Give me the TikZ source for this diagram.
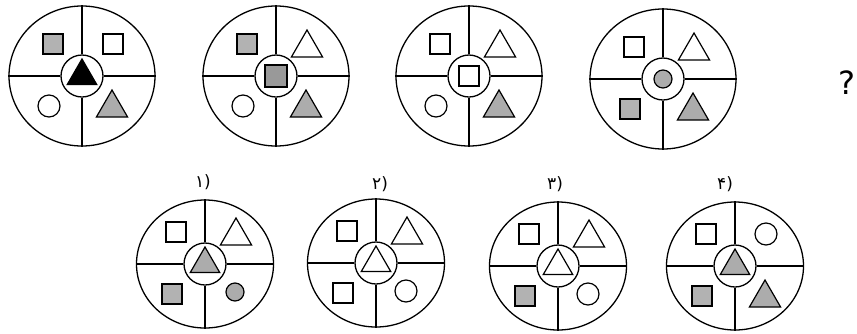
\documentclass[tikz,border=0pt]{standalone}
\usepackage{fontspec}
\setmainfont{DejaVu Sans}
\newfontfamily\arabicfont[Script=Arabic]{DejaVu Sans}
\usetikzlibrary{shapes.geometric}

\tikzset{
  rim/.style={draw, ellipse, line width=1.3pt, inner sep=0pt,
              minimum width=146, minimum height=140},
  hub/.style={draw, circle, line width=1.3pt, inner sep=0pt, minimum size=42},
  spoke/.style={line width=1.3pt},
  piece/.style={draw, line width=1.2pt, inner sep=0pt},
  sq/.style={piece, rectangle, minimum size=20},
  sqfill/.style={sq, fill=gray!60},
  sqdark/.style={sq, minimum size=22, fill=gray!80},
  ring/.style={piece, circle, minimum size=22},
  dot/.style={piece, circle, minimum size=18, fill=gray!65},
  htri/.style={piece, regular polygon, regular polygon sides=3, minimum size=34},
  htrifill/.style={htri, fill=gray!65},
  htriblack/.style={htri, fill=black},
  tri/.style={htri, minimum size=36, yshift=-4pt},
  trifill/.style={tri, fill=gray!65},
  optlabel/.style={font=\fontsize{17}{17}\selectfont},
}

% one wheel: name, centre, top-left, top-right, bottom-left, bottom-right, hub
\newcommand\wheel[7]{%
  \begin{scope}[shift={#2}]
    \node[rim] (#1) at (0,0) {};
    \node[hub] (#1-hub) at (0,0) {};
    \draw[spoke] (#1-hub.north) -- (#1.north);
    \draw[spoke] (#1-hub.south) -- (#1.south);
    \draw[spoke] (#1-hub.west) -- (#1.west);
    \draw[spoke] (#1-hub.east) -- (#1.east);
    \node[#3] (#1-tl) at (-29,-32) {};
    \node[#4] (#1-tr) at (31,-32) {};
    \node[#5] (#1-bl) at (-33,30) {};
    \node[#6] (#1-br) at (30,28) {};
    \node[#7] (#1-mid) at (0,0) {};
  \end{scope}}

\begin{document}
\begin{tikzpicture}[x=1pt, y=-1pt]
  \useasboundingbox (0,0) rectangle (857,333);

  % question row
  \wheel{q1}{(82,76)}{sqfill}{sq}{ring}{trifill}{htriblack}
  \wheel{q2}{(276,76)}{sqfill}{tri}{ring}{trifill}{sqdark}
  \wheel{q3}{(469,76)}{sq}{tri}{ring}{trifill}{sq}
  \wheel{q4}{(663,79)}{sq}{tri}{sqfill}{trifill}{dot}
  \node[font=\fontsize{32}{32}\selectfont] (ask) at (847,83) {?};

  % answer row
  \tikzset{rim/.append style={minimum width=137, minimum height=128}}
  \wheel{a1}{(205,264)}{sq}{tri}{sqfill}{dot}{htrifill}
  \wheel{a2}{(376,263)}{sq}{tri}{sq}{ring}{htri}
  \wheel{a3}{(558,266)}{sq}{tri}{sqfill}{ring}{htri}
  \wheel{a4}{(735,266)}{sq}{ring}{sqfill}{trifill}{htrifill}

  \node[optlabel] (opt1) at (203,182) {{\arabicfont ۱})};
  \node[optlabel] (opt2) at (380,184) {{\arabicfont ۲})};
  \node[optlabel] (opt3) at (555,184) {{\arabicfont ۳})};
  \node[optlabel] (opt4) at (725,184) {{\arabicfont ۴})};
\end{tikzpicture}
\end{document}
